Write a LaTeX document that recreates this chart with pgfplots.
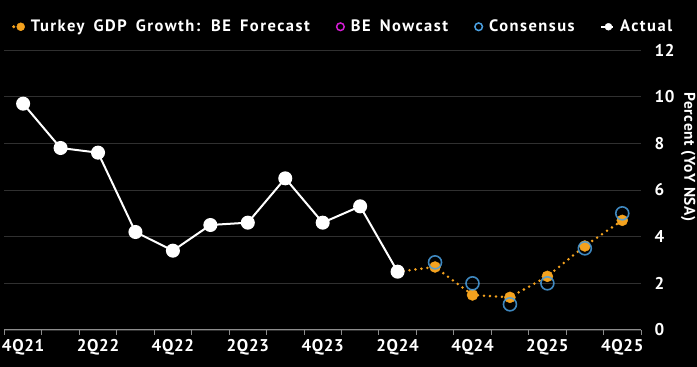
\documentclass[border=0pt]{standalone}
\usepackage{pgfplots}
\pgfplotsset{compat=1.18}
\usepackage{fontspec}
\setmainfont{PT Sans}[LetterSpace=4]
\newfontfamily\legfont{PT Sans}[LetterSpace=9, WordSpace=1.6]
\definecolor{orng}{HTML}{F4A21E}
\definecolor{cblue}{HTML}{4A9FE0}
\definecolor{mag}{HTML}{D21DD2}
\definecolor{gridc}{HTML}{303030}
\definecolor{axc}{HTML}{8C8C8C}
\begin{document}
\begin{tikzpicture}
\useasboundingbox (0pt,0pt) rectangle (697pt,367pt);
\fill[black] (0pt,0pt) rectangle (697pt,367pt);
\begin{axis}[
 at={(4.4pt,37pt)}, anchor=south west,
 scale only axis, width=636.6pt, height=280pt,
 xmin=0, xmax=17, ymin=0, ymax=12,
 axis x line*=bottom, axis y line*=right,
 y axis line style={draw=none},
 x axis line style={axc, line width=1pt, -},
 xtick={0.5,2.5,...,16.5},
 xticklabels={4Q21,2Q22,4Q22,2Q23,4Q23,2Q24,4Q24,2Q25,4Q25},
 minor xtick={0,...,17},
 major x tick style={draw=none},
 minor x tick style={axc, line width=0.8pt},
 minor tick length=5pt,
 tick align=outside,
 ytick={0,2,...,12},
 yticklabels={0,2,4,6,8,10,12},
 ymajorgrids, grid style={gridc, line width=0.8pt},
 y tick style={draw=none},
 major tick length=0pt,
 xticklabel style={text=white, font=\bfseries\fontsize{17}{17}\selectfont, yshift=-6pt},
 yticklabel style={text=white, font=\bfseries\fontsize{17}{17}\selectfont, anchor=west, xshift=10pt},
 ylabel={Percent (YoY NSA)},
 ylabel style={at={(axis description cs:1.074,0.618)}, anchor=center, rotate=180, text=white, font=\bfseries\fontsize{15.5}{15.5}\selectfont},
 legend columns=4,
 legend style={at={(axis description cs:0.012,1.083)}, anchor=west, fill=none, draw=none, text=white,
   font=\legfont\bfseries\fontsize{16.5}{16.5}\selectfont, inner sep=0pt,
   nodes={inner xsep=6pt},
   /tikz/every even column/.append style={column sep=20pt}},
 clip=false,
]
\addlegendimage{legend image code/.code={\fill[orng] (0pt,0pt) circle (1.3pt); \fill[orng] (7pt,0pt) circle (4pt);}}
\addlegendentry{Turkey GDP Growth: BE Forecast}
\addlegendimage{legend image code/.code={\draw[mag,line width=1.5pt] (4pt,0pt) circle (3.8pt);}}
\addlegendentry{BE Nowcast}
\addlegendimage{legend image code/.code={\draw[cblue,line width=1.5pt] (4pt,0pt) circle (3.8pt);}}
\addlegendentry{Consensus}
\addlegendimage{legend image code/.code={\draw[white,line width=1.5pt] (0pt,0pt)--(12pt,0pt); \fill[white] (7pt,0pt) circle (3.5pt);}}
\addlegendentry{Actual}
% forecast
\addplot[orng, line width=2.8pt, dash pattern=on 0pt off 6pt, line cap=round, forget plot] coordinates {
(10.5,2.5)(11.5,2.7)(12.5,1.5)(13.5,1.4)(14.5,2.3)(15.5,3.6)(16.5,4.7)};
\addplot[only marks, mark=*, mark size=5.5pt, orng, forget plot] coordinates {
(11.5,2.7)(12.5,1.5)(13.5,1.4)(14.5,2.3)(15.5,3.6)(16.5,4.7)};
% actual
\addplot[white, line width=2pt, mark=*, mark size=6pt, forget plot] coordinates {
(0.5,9.7)(1.5,7.8)(2.5,7.6)(3.5,4.2)(4.5,3.4)(5.5,4.5)(6.5,4.6)(7.5,6.5)(8.5,4.6)(9.5,5.3)(10.5,2.5)};
% consensus
\addplot[only marks, mark=o, mark size=6.5pt, cblue, line width=1.6pt, opacity=0.85, forget plot] coordinates {
(11.5,2.9)(12.5,2.0)(13.5,1.1)(14.5,2.0)(15.5,3.5)(16.5,5.0)};
\end{axis}
\end{tikzpicture}
\end{document}
